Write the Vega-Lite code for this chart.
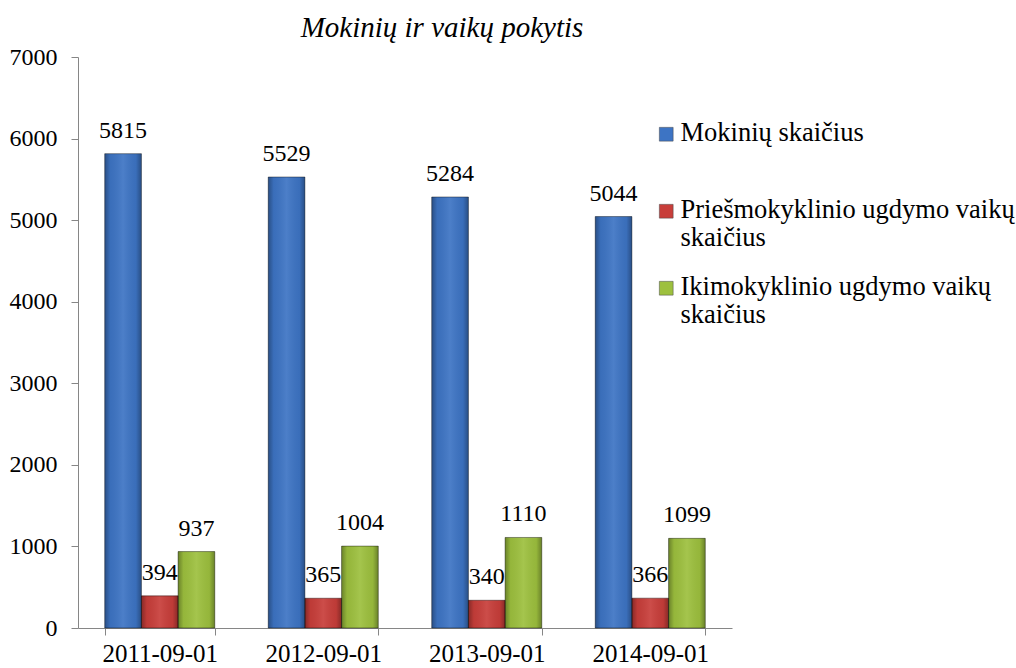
{
  "$schema": "https://vega.github.io/schema/vega-lite/v6.json",
  "autosize": "none",
  "width": 654,
  "height": 571,
  "padding": {"left": 78, "top": 57, "right": 284, "bottom": 40},
  "background": "white",
  "config": {
    "view": {"stroke": null},
    "font": "Liberation Serif",
    "axis": {"labelFont": "Liberation Serif", "labelFontSize": 24, "labelColor": "#000000", "domainColor": "#868686", "tickColor": "#868686", "grid": false, "title": null}
  },
  "title": {
    "text": "Mokinių ir vaikų pokytis",
    "font": "Liberation Serif, Times New Roman, serif",
    "fontSize": 29,
    "fontStyle": "italic",
    "fontWeight": "normal",
    "color": "#000000",
    "anchor": "middle",
    "dx": 37,
    "offset": 2
  },
  "data": {
    "values": [
      {"date": "2011-09-01", "series": "Mokinių skaičius", "value": 5815},
      {"date": "2011-09-01", "series": "Priešmokyklinio ugdymo vaikų skaičius", "value": 394},
      {"date": "2011-09-01", "series": "Ikimokyklinio ugdymo vaikų skaičius", "value": 937},
      {"date": "2012-09-01", "series": "Mokinių skaičius", "value": 5529},
      {"date": "2012-09-01", "series": "Priešmokyklinio ugdymo vaikų skaičius", "value": 365},
      {"date": "2012-09-01", "series": "Ikimokyklinio ugdymo vaikų skaičius", "value": 1004},
      {"date": "2013-09-01", "series": "Mokinių skaičius", "value": 5284},
      {"date": "2013-09-01", "series": "Priešmokyklinio ugdymo vaikų skaičius", "value": 340},
      {"date": "2013-09-01", "series": "Ikimokyklinio ugdymo vaikų skaičius", "value": 1110},
      {"date": "2014-09-01", "series": "Mokinių skaičius", "value": 5044},
      {"date": "2014-09-01", "series": "Priešmokyklinio ugdymo vaikų skaičius", "value": 366},
      {"date": "2014-09-01", "series": "Ikimokyklinio ugdymo vaikų skaičius", "value": 1099}
    ]
  },
  "encoding": {
    "x": {
      "field": "date", "type": "nominal", "sort": null,
      "scale": {"paddingInner": 0.327, "paddingOuter": 0.1635},
      "axis": {"labelAngle": 0, "tickBand": "extent", "tickSize": 7, "labelPadding": 6, "labelFontSize": 25}
    },
    "xOffset": {
      "field": "series", "type": "nominal",
      "sort": ["Mokinių skaičius", "Priešmokyklinio ugdymo vaikų skaičius", "Ikimokyklinio ugdymo vaikų skaičius"],
      "scale": {"paddingInner": 0, "paddingOuter": 0}
    },
    "y": {
      "field": "value", "type": "quantitative",
      "scale": {"domain": [0, 7000], "nice": false},
      "axis": {"values": [0, 1000, 2000, 3000, 4000, 5000, 6000, 7000], "format": "d", "tickSize": 7, "labelPadding": 14}
    }
  },
  "layer": [
    {
      "mark": {"type": "bar"},
      "encoding": {
        "color": {
          "field": "series", "type": "nominal",
          "sort": ["Mokinių skaičius", "Priešmokyklinio ugdymo vaikų skaičius", "Ikimokyklinio ugdymo vaikų skaičius"],
          "scale": {
            "domain": ["Mokinių skaičius", "Priešmokyklinio ugdymo vaikų skaičius", "Ikimokyklinio ugdymo vaikų skaičius"],
            "range": ["#3d74c4", "#c83e3a", "#9dc03e"]
          },
          "legend": {
            "title": null,
            "orient": "none",
            "legendX": 575,
            "legendY": 64,
            "symbolType": "square",
            "symbolSize": 190,
            "symbolStrokeColor": "#444444",
            "symbolStrokeWidth": 0.5,
            "labelFont": "Liberation Serif",
            "labelFontSize": 26.5,
            "labelColor": "#000000",
            "labelLimit": 400,
            "labelOffset": 1,
            "labelBaseline": "top",
            "rowPadding": 22,
            "labelExpr": "datum.label == 'Mokinių skaičius' ? ['Mokinių skaičius', ''] : datum.label == 'Priešmokyklinio ugdymo vaikų skaičius' ? ['Priešmokyklinio ugdymo vaikų', 'skaičius'] : ['Ikimokyklinio ugdymo vaikų', 'skaičius']",
            "encode": {"labels": {"update": {"dy": {"value": -14}, "lineHeight": {"value": 28}}}}
          }
        }
      }
    },
    {
      "mark": {
        "type": "bar",
        "stroke": "#000000", "strokeOpacity": 0.4, "strokeWidth": 1,
        "color": {"gradient": "linear", "x1": 0, "y1": 0, "x2": 1, "y2": 0, "stops": [
          {"offset": 0, "color": "rgba(0,0,0,0.32)"},
          {"offset": 0.15, "color": "rgba(0,0,0,0.05)"},
          {"offset": 0.5, "color": "rgba(255,255,255,0.08)"},
          {"offset": 0.85, "color": "rgba(0,0,0,0.05)"},
          {"offset": 1, "color": "rgba(0,0,0,0.32)"}
        ]}
      },
      "encoding": {}
    },
    {
      "mark": {"type": "text", "font": "Liberation Serif", "fontSize": 24, "color": "#000000", "baseline": "alphabetic", "dy": -16},
      "encoding": {"text": {"field": "value", "type": "quantitative"}}
    }
  ]
}
